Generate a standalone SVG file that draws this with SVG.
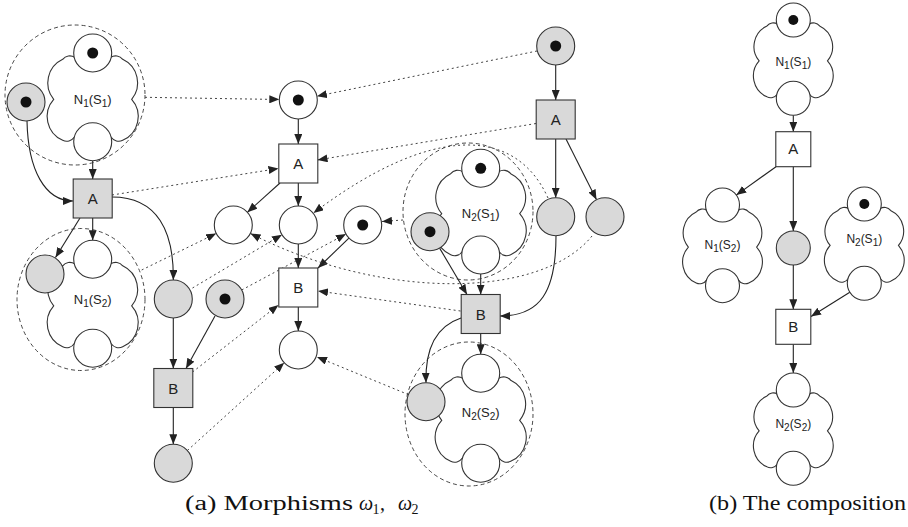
<svg xmlns="http://www.w3.org/2000/svg" xmlns:xlink="http://www.w3.org/1999/xlink" width="908" height="527" viewBox="0 0 908 527">
  <style>
    .pl { fill: #fff; stroke: #333; stroke-width: 1.1; }
    .tr { fill: #fff; stroke: #333; stroke-width: 1.1; }
    .g { fill: #d9d9d9; }
    .tk { fill: #111; stroke: none; }
    .cl { fill: #fff; stroke: #333; stroke-width: 1.1; }
    .cls { stroke-width: 1.25; }
    .grp { fill: none; stroke: #333; stroke-width: 0.9; stroke-dasharray: 4 3; }
    .arc { fill: none; stroke: #222; stroke-width: 1.1; marker-end: url(#ah); }
    .mor { fill: none; stroke: #444; stroke-width: 1; stroke-dasharray: 2 3; marker-end: url(#ah); }
    .lb { font-family: "Liberation Sans", Arial, sans-serif; font-size: 13px; fill: #222; text-anchor: middle; }
    .lbs { font-size: 12px; }
    .sb { font-size: 10px; }
    .tl { font-family: "Liberation Sans", Arial, sans-serif; font-size: 15px; fill: #222; text-anchor: middle; }
    .cap { font-family: "Liberation Serif", "Times New Roman", serif; font-size: 20px; fill: #111; }
    .csb { font-size: 14px; }
  </style>
  <defs>
    <marker id="ah" markerUnits="userSpaceOnUse" markerWidth="10" markerHeight="8" refX="10" refY="4" orient="auto">
      <path d="M0,0 L10,4 L0,8 z" fill="#222"/>
    </marker>
    <!-- cloud outline of a sub-net, centred on (0,0) -->
    <path id="cloud" d="M18,-40 A9,9 0 0 1 30,-38 A26,26 0 0 1 39,2 A26,26 0 0 1 30,43 A9,9 0 0 1 18.5,40 L-18.5,40 A9,9 0 0 1 -30,43 A26,26 0 0 1 -39,2 A26,26 0 0 1 -30,-38 A9,9 0 0 1 -18,-40 Z"/>
  </defs>

  <!-- connectors -->
  <g id="connectors">
    <!-- net N1 -->
    <path class="arc" d="M92.7,160.7 L92.7,179"/>
    <path class="arc" d="M27,121 C28,170 45,201 73,201"/>
    <path class="arc" d="M80,218 L55.5,257.5"/>
    <path class="arc" d="M92.7,218 L92.7,240.3"/>
    <path class="arc" d="M112,197 C158,197 174,232 173.3,280"/>
    <path class="arc" d="M173.3,318 L173.3,368.5"/>
    <path class="arc" d="M215,316 L186,368.5"/>
    <path class="arc" d="M173.3,407.5 L173.3,444.3"/>
    <!-- middle net -->
    <path class="arc" d="M298.3,119 L298.3,144"/>
    <path class="arc" d="M280,183 L247.4,212.3"/>
    <path class="arc" d="M298.3,183 L298.3,206"/>
    <path class="arc" d="M298.3,244 L298.3,268"/>
    <path class="arc" d="M348.9,238.1 L318,268"/>
    <path class="arc" d="M298.3,307 L298.3,331"/>
    <!-- net N2 -->
    <path class="arc" d="M555.7,65 L555.7,100"/>
    <path class="arc" d="M555.7,139 L555.7,197.7"/>
    <path class="arc" d="M566,139 L596.5,199.7"/>
    <path class="arc" d="M439.6,248.1 L467,294.5"/>
    <path class="arc" d="M480.7,274 L480.7,294.5"/>
    <path class="arc" d="M556,235.7 C556,292 540,316 500,316"/>
    <path class="arc" d="M461,318 C437,326 425,348 426,382.7"/>
    <path class="arc" d="M480.7,333.5 L480.7,354.3"/>
    <!-- composed net -->
    <path class="arc" d="M793.3,115.3 L793.3,131.7"/>
    <path class="arc" d="M776,166.7 L736.3,195.1"/>
    <path class="arc" d="M793.3,166.7 L793.3,231"/>
    <path class="arc" d="M793.3,265 L793.3,309.3"/>
    <path class="arc" d="M849.8,292.2 L811,316.5"/>
    <path class="arc" d="M793.3,344.3 L793.3,373"/>
    <!-- morphism omega1 -->
    <path class="mor" d="M145,97.3 L279.3,99.5"/>
    <path class="mor" d="M112,195 L278.5,168.5"/>
    <path class="mor" d="M141.7,270 L216.2,233.4"/>
    <path class="mor" d="M192.5,288 L282,234.7"/>
    <path class="mor" d="M241.7,290 L346,234"/>
    <path class="mor" d="M192.5,372 L278.5,305"/>
    <path class="mor" d="M187.4,450.5 L284.2,362.8"/>
    <!-- morphism omega2 -->
    <path class="mor" d="M537,51 L316.9,96.2"/>
    <path class="mor" d="M536,123.5 L317.5,160"/>
    <path class="mor" d="M548,198 C515,125 430,125 313.5,213"/>
    <path class="mor" d="M403,220 L382,221.5"/>
    <path class="mor" d="M592,236 C540,300 380,300 250.5,233.5"/>
    <path class="mor" d="M460.5,311 L318,291"/>
    <path class="mor" d="M408.4,394.6 L317,357"/>
  </g>

  <!-- net N1 -->
  <g id="n1-s1">
    <ellipse class="grp" cx="75" cy="95" rx="70" ry="70"/>
    <use href="#cloud" class="cl" transform="translate(92.7,97.3)"/>
    <circle class="pl" cx="92.7" cy="53" r="19"/>
    <circle class="tk" cx="92.7" cy="53" r="5.5"/>
    <circle class="pl" cx="92.7" cy="141.7" r="19"/>
    <text class="lb" x="92.7" y="104">N<tspan class="sb" dy="3">1</tspan><tspan dy="-3">(S</tspan><tspan class="sb" dy="3">1</tspan><tspan dy="-3">)</tspan></text>
  </g>
  <g id="n1-p0"><circle class="pl g" cx="26" cy="102" r="19"/><circle class="tk" cx="26" cy="102" r="5.5"/></g>
  <g id="n1-A"><rect class="tr g" x="73.2" y="179" width="39" height="39"/><text class="tl" x="92.7" y="204">A</text></g>
  <g id="n1-s2">
    <ellipse class="grp" cx="81" cy="299.5" rx="64" ry="71"/>
    <use href="#cloud" class="cl" transform="translate(92.7,303.8)"/>
    <circle class="pl" cx="92.7" cy="259.3" r="19"/>
    <circle class="pl" cx="92.7" cy="348.3" r="19"/>
    <circle class="pl g" cx="45" cy="274" r="19"/>
    <text class="lb" x="92.7" y="304">N<tspan class="sb" dy="3">1</tspan><tspan dy="-3">(S</tspan><tspan class="sb" dy="3">2</tspan><tspan dy="-3">)</tspan></text>
  </g>
  <g id="n1-p1"><circle class="pl g" cx="173.3" cy="299" r="19"/></g>
  <g id="n1-p2"><circle class="pl g" cx="225" cy="299" r="19"/><circle class="tk" cx="225" cy="299" r="5.5"/></g>
  <g id="n1-B"><rect class="tr g" x="153.8" y="368.5" width="39" height="39"/><text class="tl" x="173.3" y="393.5">B</text></g>
  <g id="n1-p3"><circle class="pl g" cx="173.3" cy="463.3" r="19"/></g>

  <!-- middle net -->
  <g id="m-p0"><circle class="pl" cx="298.3" cy="100" r="19"/><circle class="tk" cx="298.3" cy="100" r="5.5"/></g>
  <g id="m-A"><rect class="tr" x="278.8" y="144" width="39" height="39"/><text class="tl" x="298.3" y="169">A</text></g>
  <g id="m-p1"><circle class="pl" cx="233.3" cy="225" r="19"/></g>
  <g id="m-p2"><circle class="pl" cx="298.3" cy="225" r="19"/></g>
  <g id="m-p3"><circle class="pl" cx="362.7" cy="225" r="19"/><circle class="tk" cx="362.7" cy="225" r="5.5"/></g>
  <g id="m-B"><rect class="tr" x="278.8" y="268" width="39" height="39"/><text class="tl" x="298.3" y="293">B</text></g>
  <g id="m-p4"><circle class="pl" cx="298.3" cy="350" r="19"/></g>

  <!-- net N2 -->
  <g id="n2-p0"><circle class="pl g" cx="555.7" cy="46" r="19"/><circle class="tk" cx="555.7" cy="46" r="5.5"/></g>
  <g id="n2-A"><rect class="tr g" x="536.2" y="100" width="39" height="39"/><text class="tl" x="555.7" y="125">A</text></g>
  <g id="n2-p1"><circle class="pl g" cx="555.7" cy="216.7" r="19"/></g>
  <g id="n2-p2"><circle class="pl g" cx="605" cy="216.7" r="19"/></g>
  <g id="n2-s1">
    <ellipse class="grp" cx="468" cy="211.5" rx="65" ry="68.5"/>
    <use href="#cloud" class="cl" transform="translate(480.7,211.7)"/>
    <circle class="pl" cx="480.7" cy="168.3" r="19"/>
    <circle class="tk" cx="480.7" cy="168.3" r="5.5"/>
    <circle class="pl" cx="480.7" cy="255" r="19"/>
    <circle class="pl g" cx="430" cy="231.7" r="19"/>
    <circle class="tk" cx="430" cy="231.7" r="5.5"/>
    <text class="lb" x="480.7" y="218">N<tspan class="sb" dy="3">2</tspan><tspan dy="-3">(S</tspan><tspan class="sb" dy="3">1</tspan><tspan dy="-3">)</tspan></text>
  </g>
  <g id="n2-B"><rect class="tr g" x="461.2" y="294.5" width="39" height="39"/><text class="tl" x="480.7" y="319.5">B</text></g>
  <g id="n2-s2">
    <ellipse class="grp" cx="469" cy="414" rx="64" ry="72"/>
    <use href="#cloud" class="cl" transform="translate(480.7,418.3)"/>
    <circle class="pl" cx="480.7" cy="373.3" r="19"/>
    <circle class="pl" cx="480.7" cy="463.3" r="19"/>
    <circle class="pl g" cx="426" cy="401.7" r="19"/>
    <text class="lb" x="480.7" y="417">N<tspan class="sb" dy="3">2</tspan><tspan dy="-3">(S</tspan><tspan class="sb" dy="3">2</tspan><tspan dy="-3">)</tspan></text>
  </g>

  <!-- composed net -->
  <g id="c-s1">
    <use href="#cloud" class="cl cls" transform="translate(793.3,59.2) scale(0.876)"/>
    <circle class="pl" cx="793.3" cy="20" r="17"/>
    <circle class="tk" cx="793.3" cy="20" r="5"/>
    <circle class="pl" cx="793.3" cy="98.3" r="17"/>
    <text class="lb lbs" x="793.3" y="66">N<tspan class="sb" dy="3">1</tspan><tspan dy="-3">(S</tspan><tspan class="sb" dy="3">1</tspan><tspan dy="-3">)</tspan></text>
  </g>
  <g id="c-A"><rect class="tr" x="775.8" y="131.7" width="35" height="35"/><text class="tl" x="793.3" y="154">A</text></g>
  <g id="c-s2">
    <use href="#cloud" class="cl cls" transform="translate(722.5,245.3) scale(0.876)"/>
    <circle class="pl" cx="722.5" cy="205" r="17"/>
    <circle class="pl" cx="722.5" cy="285.7" r="17"/>
    <text class="lb lbs" x="722.5" y="249">N<tspan class="sb" dy="3">1</tspan><tspan dy="-3">(S</tspan><tspan class="sb" dy="3">2</tspan><tspan dy="-3">)</tspan></text>
  </g>
  <g id="c-p"><circle class="pl g" cx="793.3" cy="248" r="17"/></g>
  <g id="c-s3">
    <use href="#cloud" class="cl cls" transform="translate(864.3,243.7) scale(0.876)"/>
    <circle class="pl" cx="864.3" cy="204" r="17"/>
    <circle class="tk" cx="864.3" cy="204" r="5"/>
    <circle class="pl" cx="864.3" cy="283.3" r="17"/>
    <text class="lb lbs" x="864.3" y="243">N<tspan class="sb" dy="3">2</tspan><tspan dy="-3">(S</tspan><tspan class="sb" dy="3">1</tspan><tspan dy="-3">)</tspan></text>
  </g>
  <g id="c-B"><rect class="tr" x="775.8" y="309.3" width="35" height="35"/><text class="tl" x="793.3" y="331.5">B</text></g>
  <g id="c-s4">
    <use href="#cloud" class="cl cls" transform="translate(793.3,429.2) scale(0.876)"/>
    <circle class="pl" cx="793.3" cy="390" r="17"/>
    <circle class="pl" cx="793.3" cy="468.3" r="17"/>
    <text class="lb lbs" x="793.3" y="428">N<tspan class="sb" dy="3">2</tspan><tspan dy="-3">(S</tspan><tspan class="sb" dy="3">2</tspan><tspan dy="-3">)</tspan></text>
  </g>

  <!-- captions -->
  <g id="captions">
    <text class="cap" x="185" y="510" textLength="168" lengthAdjust="spacingAndGlyphs">(a) Morphisms</text>
    <text class="cap"><tspan x="359" y="510" font-style="italic">ω</tspan><tspan class="csb" x="372.5" y="514">1</tspan><tspan x="380" y="510">,</tspan><tspan x="398" y="510" font-style="italic">ω</tspan><tspan class="csb" x="411.5" y="514">2</tspan></text>
    <text class="cap" x="709" y="510" textLength="197" lengthAdjust="spacingAndGlyphs">(b) The composition</text>
  </g>
</svg>
